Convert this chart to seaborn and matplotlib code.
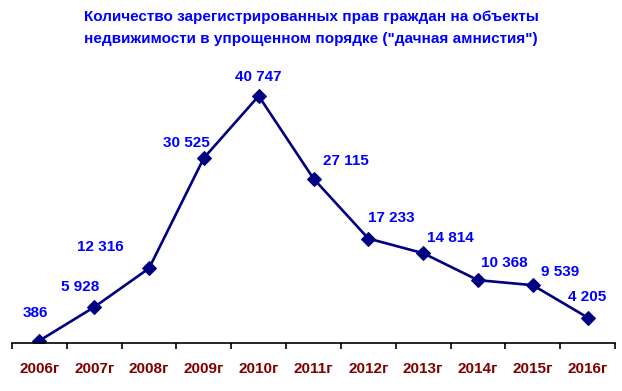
import pandas as pd
import matplotlib.pyplot as plt
import seaborn as sns
from matplotlib.ticker import FixedLocator

# data
years = ['2006г', '2007г', '2008г', '2009г', '2010г', '2011г',
         '2012г', '2013г', '2014г', '2015г', '2016г']
counts = [386, 5928, 12316, 30525, 40747, 27115, 17233, 14814, 10368, 9539, 4205]
labels = ['386', '5 928', '12 316', '30 525', '40 747', '27 115',
          '17 233', '14 814', '10 368', '9 539', '4 205']

# label offsets in pixels (placement only)
label_dx = [-4, -14, -49, -17, 0, 32, 23, 27, 26, 27, 0]
label_dy = [28, 20, 21, 15, 19, 18, 21, 15, 17, 13, 21]

df = pd.DataFrame({'pos': range(len(years)), 'count': counts})

sns.set_style('white')
plt.rcParams['font.family'] = ['Liberation Sans', 'DejaVu Sans']

fig = plt.figure(figsize=(6.22, 3.91), dpi=100)
ax = fig.add_axes([12 / 622, 48 / 391, 603 / 622, 272.8 / 391])

sns.lineplot(data=df, x='pos', y='count', ax=ax, color='#000080', linewidth=1.9,
             marker='D', markersize=7, markeredgecolor='#000080')

for i, (v, t) in enumerate(zip(counts, labels)):
    ax.annotate(t, (i, v), xytext=(label_dx[i], label_dy[i]), textcoords='offset pixels',
                ha='center', va='center', color='#0000FF', fontsize=11, fontweight='bold')

ax.set_xlim(-0.5, len(years) - 0.5)
ax.set_ylim(0, 45000)
ax.set_xticks(range(len(years)))
ax.set_xticklabels(years, color='#800000', fontsize=11, fontweight='bold')
ax.xaxis.set_minor_locator(FixedLocator([i - 0.5 for i in range(len(years) + 1)]))
ax.tick_params(axis='x', which='major', length=0, pad=14)
ax.tick_params(axis='x', which='minor', length=4, width=1.2, color='black', direction='out', bottom=True)
ax.set_yticks([])
ax.set_xlabel('')
ax.set_ylabel('')
for s in ['top', 'left', 'right']:
    ax.spines[s].set_visible(False)
ax.spines['bottom'].set_color('black')
ax.spines['bottom'].set_linewidth(1.2)

fig.text(0.5, 1 - 17 / 391, 'Количество зарегистрированных прав граждан на объекты',
         ha='center', va='center', color='#0000FF', fontsize=11, fontweight='bold')
fig.text(0.5, 1 - 39 / 391, 'недвижимости в упрощенном порядке ("дачная амнистия")',
         ha='center', va='center', color='#0000FF', fontsize=11, fontweight='bold')

fig.savefig('out.png', dpi=100)
